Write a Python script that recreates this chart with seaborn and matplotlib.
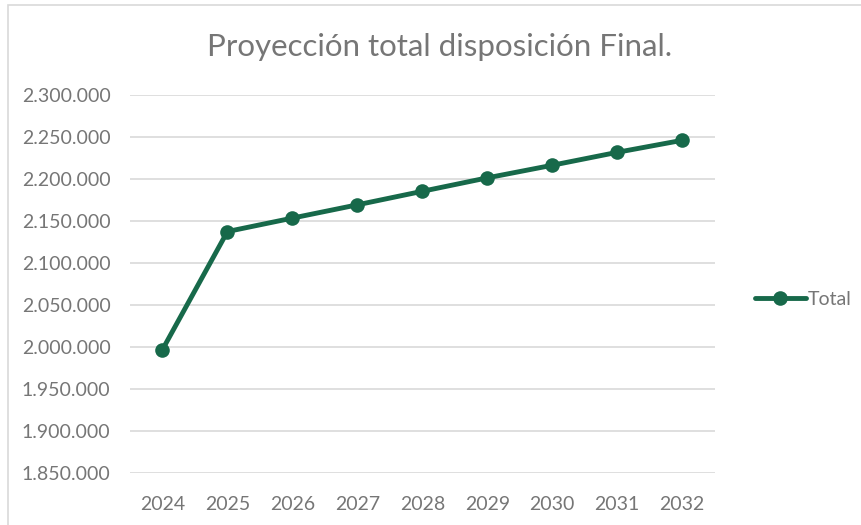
import matplotlib
matplotlib.use("Agg")
import matplotlib.pyplot as plt
import matplotlib.ticker as mticker
from matplotlib.patches import Rectangle
import seaborn as sns
import pandas as pd

years = [2024, 2025, 2026, 2027, 2028, 2029, 2030, 2031, 2032]
total = [1997300, 2137800, 2153800, 2169600, 2185700, 2201700, 2216700, 2232100, 2246400]

df = pd.DataFrame({"Año": years, "Total": total})

sns.set_style("white")
plt.rcParams["font.family"] = ["Lato", "DejaVu Sans"]

green = "#17694A"
gray = "#767676"

fig = plt.figure(figsize=(8.61, 5.25), dpi=100)
ax = fig.add_axes([0.151, 0.0985, 0.679, 0.72])

sns.lineplot(data=df, x="Año", y="Total", ax=ax, color=green, linewidth=3.5,
             marker="o", markersize=10.5, markeredgewidth=0, label="Total")

ax.set_xlim(2023.5, 2032.5)
ax.set_ylim(1850000, 2300000)
ax.set_xticks(years)
ax.yaxis.set_major_locator(mticker.MultipleLocator(50000))
ax.yaxis.set_major_formatter(mticker.FuncFormatter(lambda v, p: f"{v:,.0f}".replace(",", ".")))
ax.grid(axis="y", color="#D9D9D9", linewidth=1.2)
ax.set_axisbelow(True)
for s in ax.spines.values():
    s.set_visible(False)
ax.tick_params(axis="both", length=0, labelsize=14, colors=gray)
ax.tick_params(axis="x", pad=16)
ax.tick_params(axis="y", pad=14)
ax.set_xlabel("")
ax.set_ylabel("")

fig.text(0.511, 0.91, "Proyección total disposición Final.", ha="center", va="center",
         fontsize=22.5, color=gray)

leg = ax.legend(loc="center left", bbox_to_anchor=(0.868, 0.43), bbox_transform=fig.transFigure,
                frameon=False, fontsize=14, handlelength=2.6, handletextpad=0.1, borderaxespad=0)
for t in leg.get_texts():
    t.set_color(gray)

fig.patches.append(Rectangle((0.009, -0.01), 1.2, 1.0, transform=fig.transFigure,
                             fill=False, edgecolor="#D9D9D9", linewidth=1.2))

fig.savefig("out.png", dpi=100)
